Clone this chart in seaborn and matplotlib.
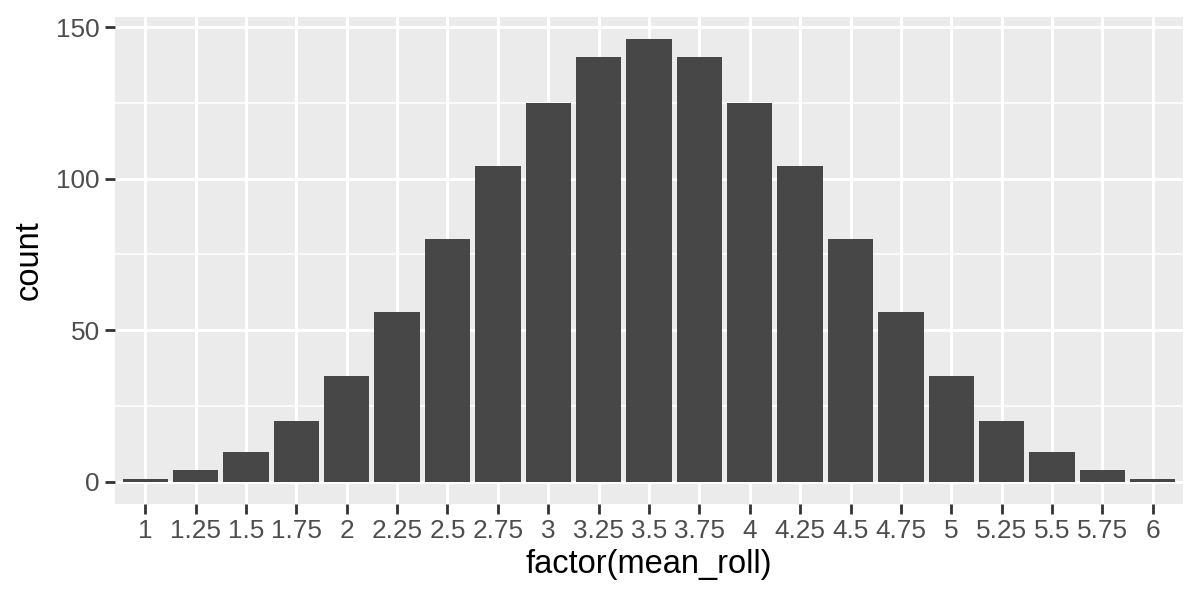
import matplotlib
matplotlib.use("Agg")
import matplotlib.pyplot as plt
from matplotlib.ticker import MultipleLocator
import seaborn as sns
import pandas as pd

# mean of four dice: counts per value
mean_roll = ['1', '1.25', '1.5', '1.75', '2', '2.25', '2.5', '2.75', '3', '3.25', '3.5',
             '3.75', '4', '4.25', '4.5', '4.75', '5', '5.25', '5.5', '5.75', '6']
counts = [1, 4, 10, 20, 35, 56, 80, 104, 125, 140, 146,
          140, 125, 104, 80, 56, 35, 20, 10, 4, 1]

df = pd.DataFrame({'mean_roll': mean_roll, 'count': counts})

sns.set_style("darkgrid")
plt.rcParams['font.family'] = ['Liberation Sans', 'DejaVu Sans']

fig = plt.figure(figsize=(12, 6), dpi=100)
ax = fig.add_axes([115/1200, 96/600, (1183-115)/1200, (504-17)/600])
ax.set_facecolor('#EBEBEB')

sns.barplot(data=df, x='mean_roll', y='count', order=mean_roll, color='#474747',
            saturation=1, width=0.9, linewidth=0, ax=ax, zorder=3)

ax.set_xlim(-0.6, len(mean_roll) - 0.4)
ax.set_ylim(-7.3, 153.3)
ax.yaxis.set_major_locator(MultipleLocator(50))
ax.yaxis.set_minor_locator(MultipleLocator(25))

ax.grid(False)
ax.grid(which='major', axis='both', color='white', linewidth=2.2, zorder=1)
ax.grid(which='minor', axis='y', color='white', linewidth=1.1, zorder=1)
ax.set_axisbelow(True)
for s in ax.spines.values():
    s.set_visible(False)

ax.tick_params(axis='both', which='major', length=7, width=2, color='#333333',
               labelcolor='#4D4D4D', labelsize=18.8, pad=4,
               bottom=True, left=True)
ax.tick_params(axis='y', which='minor', length=0, left=False)

ax.set_xlabel('factor(mean_roll)', fontsize=23.5, color='black', labelpad=4)
ax.set_ylabel('count', fontsize=23.5, color='black', labelpad=8)

fig.savefig('out.png', dpi=100)
